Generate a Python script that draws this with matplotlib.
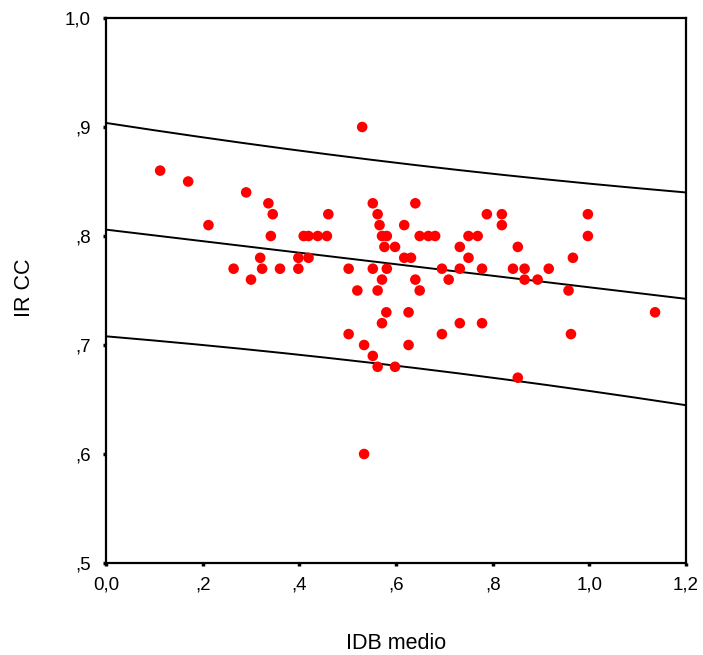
import matplotlib
matplotlib.use("Agg")
import matplotlib.pyplot as plt
import numpy as np

# IDB medio vs IR CC, one entry per case
idb_medio = [
    0.112, 0.170, 0.290,
    0.336, 0.552, 0.640,
    0.345, 0.460, 0.562, 0.788, 0.819, 0.997,
    0.212, 0.566, 0.617, 0.819,
    0.341, 0.409, 0.419, 0.438, 0.457, 0.571, 0.581, 0.649, 0.667, 0.681,
    0.750, 0.769, 0.997,
    0.576, 0.598, 0.732, 0.852,
    0.319, 0.398, 0.419, 0.617, 0.631, 0.750, 0.966,
    0.264, 0.323, 0.360, 0.398, 0.502, 0.552, 0.581, 0.695, 0.732, 0.778,
    0.842, 0.866, 0.916,
    0.300, 0.571, 0.640, 0.709, 0.866, 0.893,
    0.520, 0.562, 0.649, 0.957,
    0.580, 0.626, 1.136,
    0.571, 0.732, 0.778,
    0.502, 0.695, 0.962,
    0.534, 0.626,
    0.552,
    0.562, 0.598,
    0.852,
    0.534,
    0.530,
]
ir_cc = [
    0.86, 0.85, 0.84,
    0.83, 0.83, 0.83,
    0.82, 0.82, 0.82, 0.82, 0.82, 0.82,
    0.81, 0.81, 0.81, 0.81,
    0.80, 0.80, 0.80, 0.80, 0.80, 0.80, 0.80, 0.80, 0.80, 0.80,
    0.80, 0.80, 0.80,
    0.79, 0.79, 0.79, 0.79,
    0.78, 0.78, 0.78, 0.78, 0.78, 0.78, 0.78,
    0.77, 0.77, 0.77, 0.77, 0.77, 0.77, 0.77, 0.77, 0.77, 0.77,
    0.77, 0.77, 0.77,
    0.76, 0.76, 0.76, 0.76, 0.76, 0.76,
    0.75, 0.75, 0.75, 0.75,
    0.73, 0.73, 0.73,
    0.72, 0.72, 0.72,
    0.71, 0.71, 0.71,
    0.70, 0.70,
    0.69,
    0.68, 0.68,
    0.67,
    0.60,
    0.90,
]

x_ticks = [0.0, 0.2, 0.4, 0.6, 0.8, 1.0, 1.2]
x_tick_labels = ["0,0", ",2", ",4", ",6", ",8", "1,0", "1,2"]
y_ticks = [0.5, 0.6, 0.7, 0.8, 0.9, 1.0]
y_tick_labels = [",5", ",6", ",7", ",8", ",9", "1,0"]

# two-sided 95% t quantile, df = n - 2 = 77
T_975 = 1.9913

plt.rcParams["font.family"] = ["Liberation Sans", "DejaVu Sans"]

x = np.asarray(idb_medio)
y = np.asarray(ir_cc)
n = len(x)
slope, intercept = np.polyfit(x, y, 1)
resid = y - (intercept + slope * x)
s = np.sqrt(np.sum(resid ** 2) / (n - 2))
sxx = np.sum((x - x.mean()) ** 2)

# fit line plus 95% prediction band for single cases
xs = np.linspace(0.0, 1.2, 200)
fit = intercept + slope * xs
half = T_975 * s * np.sqrt(1 + 1 / n + (xs - x.mean()) ** 2 / sxx)

fig = plt.figure(figsize=(7.03, 6.55), dpi=100)
ax = fig.add_axes([106 / 703, 1 - 563 / 655, 580 / 703, 545 / 655])

ax.plot(xs, fit, color="black", linewidth=1.4, zorder=2)
ax.plot(xs, fit + half, color="black", linewidth=1.4, zorder=2)
ax.plot(xs, fit - half, color="black", linewidth=1.4, zorder=2)
ax.scatter(x, y, s=58, color="#ff0000", edgecolors="none", zorder=3)

ax.set_xlim(0.0, 1.2)
ax.set_ylim(0.5, 1.0)
ax.set_xticks(x_ticks)
ax.set_xticklabels(x_tick_labels)
ax.set_yticks(y_ticks)
ax.set_yticklabels(y_tick_labels)
ax.tick_params(direction="out", length=2.5, width=2.5, labelsize=13.5,
               colors="black")
ax.tick_params(axis="x", pad=7.5)
ax.tick_params(axis="y", pad=8.5)
for sp in ax.spines.values():
    sp.set_linewidth(1.6)
    sp.set_color("black")

fig.text(395.8 / 703, 1 - 649 / 655, "IDB medio", ha="center", va="baseline",
         fontsize=15.5)
fig.text(24.5 / 703, 1 - 288 / 655, "IR CC", ha="center", va="center",
         rotation=90, fontsize=15.5)

fig.savefig("out.png", dpi=100)
